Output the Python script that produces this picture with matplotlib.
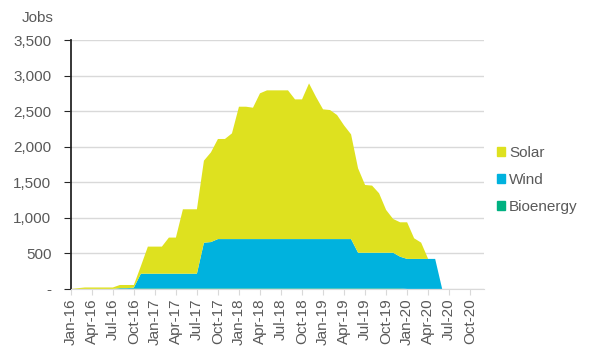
import numpy as np
import matplotlib.pyplot as plt
from matplotlib.patches import Patch

plt.rcParams['font.family'] = ['Liberation Sans', 'DejaVu Sans']

## monthly series, Jan-16 onwards
months = ['Jan', 'Feb', 'Mar', 'Apr', 'May', 'Jun', 'Jul', 'Aug', 'Sep', 'Oct', 'Nov', 'Dec']
years = ['16', '17', '18', '19', '20']
labels = [m + '-' + y for y in years for m in months]

bioenergy = [0, 0, 0, 0, 0, 0, 0, 0, 0, 8, 8, 8, 8, 8, 8, 8, 8, 8, 8, 8,
             8, 8, 8, 8, 8, 8, 8, 8, 8, 8, 8, 8, 8, 8, 8, 8, 8, 8, 8, 8,
             8, 8, 8, 8, 8, 8, 8, 8, 0, 0, 0, 0, 0, 0]
wind = [0, 0, 0, 0, 0, 0, 0, 10, 10, 10, 206, 206, 206, 206, 206, 206, 206, 206, 206, 642,
        651, 693, 693, 693, 693, 693, 693, 693, 693, 693, 693, 693, 693, 693, 693, 693, 693, 693, 693, 693,
        693, 501, 501, 501, 501, 501, 501, 445, 422, 422, 422, 422, 422, 0]
solar = [0, 10, 20, 20, 20, 20, 20, 45, 45, 37, 106, 381, 381, 381, 508, 508, 906, 906, 906, 1154,
         1262, 1408, 1408, 1487, 1862, 1862, 1848, 2050, 2092, 2092, 2092, 2092, 1965, 1965, 2190, 1999, 1825, 1815, 1745, 1599,
         1473, 1187, 953, 944, 836, 602, 475, 484, 515, 290, 229, 0, 0, 0]

c_solar = '#dee11f'
c_wind = '#00b2de'
c_bio = '#00b181'
grey = '#595959'

x = np.arange(len(solar))

fig = plt.figure(figsize=(6, 3.58), dpi=100)
ax = fig.add_axes([0.118, 0.193, 0.689, 0.695])

ax.stackplot(x, bioenergy, wind, solar, colors=[c_bio, c_wind, c_solar], linewidth=0)

ax.set_xlim(0, 59)
ax.set_ylim(0, 3500)
ax.set_yticks(np.arange(0, 3501, 500))
ax.set_yticklabels(['-'] + ['{:,}'.format(v) for v in range(500, 3501, 500)])
ax.set_xticks(np.arange(0, 60, 3))
ax.set_xticklabels(labels[::3], rotation=90)

ax.grid(axis='y', color='#d9d9d9', linewidth=1)
ax.set_axisbelow(True)
for s in ['top', 'right']:
    ax.spines[s].set_visible(False)
ax.spines['left'].set_color('#262626')
ax.spines['left'].set_linewidth(1.3)
ax.spines['bottom'].set_color('#d9d9d9')
ax.tick_params(axis='y', length=5, color='#262626', labelsize=11, labelcolor=grey, pad=9)
ax.tick_params(axis='x', length=4, color='#d9d9d9', labelsize=11, labelcolor=grey, pad=3)

fig.text(0.089, 0.95, 'Jobs', ha='right', va='center', fontsize=11, color=grey)

handles = [Patch(color=c_solar), Patch(color=c_wind), Patch(color=c_bio)]
ax.legend(handles, ['Solar', 'Wind', 'Bioenergy'], loc='center left',
          bbox_to_anchor=(1.031, 0.438), frameon=False, fontsize=11,
          borderaxespad=0, borderpad=0,
          handlelength=0.5, handleheight=0.5, handletextpad=0.3,
          labelspacing=0.83, labelcolor=grey)

fig.savefig('out.png', dpi=100)
